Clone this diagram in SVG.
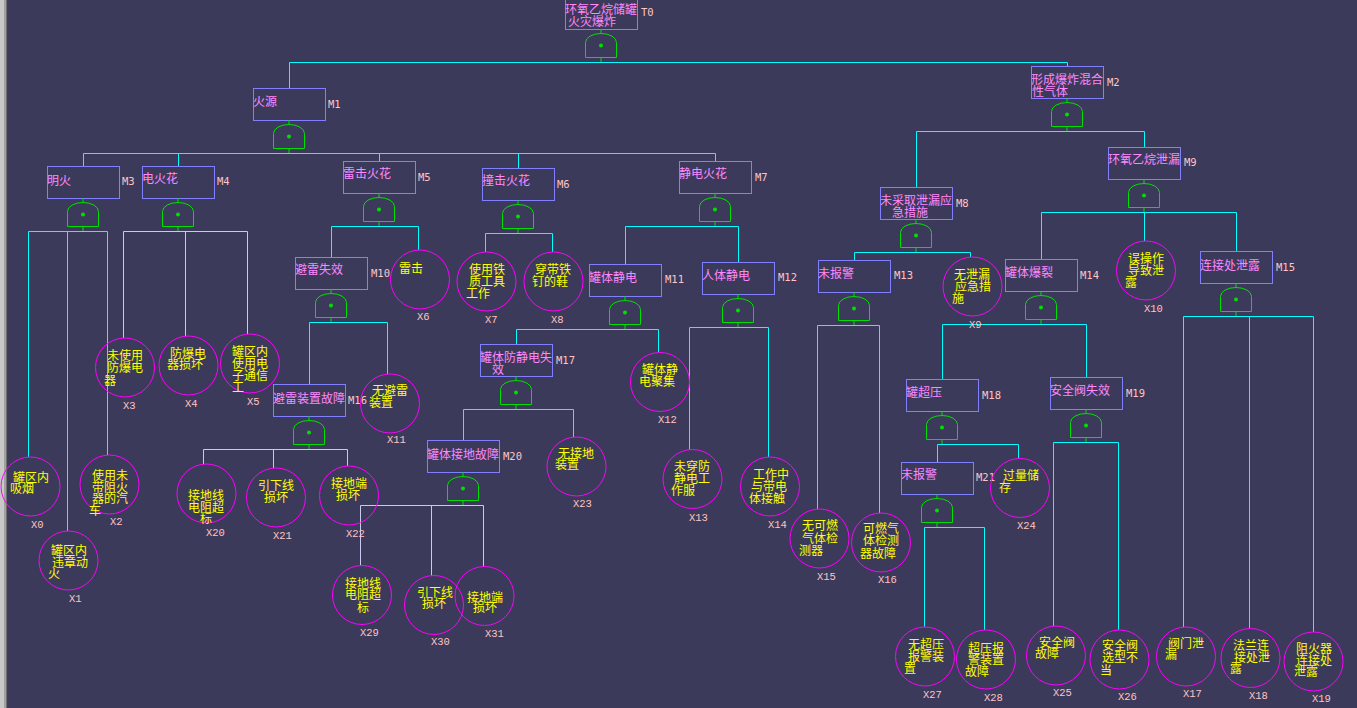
<svg xmlns="http://www.w3.org/2000/svg" xmlns:xlink="http://www.w3.org/1999/xlink" width="1357" height="708" viewBox="0 0 1357 708">
<style>
.bx{fill:none;stroke:#8080ff;stroke-width:1}
.bt{fill:#ff88ff;font-family:"Noto Sans CJK SC",sans-serif;font-size:12px}
.ct{fill:#ffff00;font-family:"Noto Sans CJK SC",sans-serif;font-size:12px}
.lb{fill:#ffc4c4;font-family:"DejaVu Sans Mono",monospace;font-size:10.5px}
.xl{fill:#ffc4c4;font-family:"Liberation Mono",monospace;font-size:10.5px}
.ev{fill:none;stroke:#ff00ff;stroke-width:1}
.c{fill:none;stroke:#00ffff;stroke-width:1}
.c .p{stroke:#c8c8f0}
.g{fill:none;stroke:#00e000;stroke-width:1}
</style>
<defs>
<g id="gate">
<path class="g" d="M16,-4 V0 M16,24 V29 M0.5,24.5 V9.5 A15.5,9 0 0 1 31.5,9.5 V24.5 Z"/>
<circle cx="16" cy="12.5" r="2" fill="#00e000"/>
</g>
</defs>
<rect x="0" y="0" width="1357" height="708" fill="#3c3a5a"/>
<rect x="0" y="0" width="4" height="708" fill="#c8c8c8"/>
<rect x="4" y="0" width="2" height="708" fill="#a0a0a0"/>
<rect x="6" y="0" width="1" height="708" fill="#707070"/>

<g id="connectors" class="c">
<path d="M289.5,62.5 H1067.5 M289.5,62.5 V88 M1067.5,62.5 V66"/>
<path d="M83.5,153.5 H715.5 M83.5,153.5 V166 M178.5,153.5 V166 M379.5,153.5 V161 M518.5,153.5 V168 M715.5,153.5 V161"/>
<path d="M916.5,131.5 H1144.5 M916.5,131.5 V187 M1144.5,131.5 V147"/>
<path d="M28.5,231.5 H107.5 M28.5,231.5 V457 M67.5,231.5 V531 M107.5,231.5 V455"/>
<path class="p" d="M123.5,231.5 H247.5 M123.5,231.5 V338 M185.5,231.5 V336 M247.5,231.5 V334"/>
<path d="M331.5,226.5 H418.5 M331.5,226.5 V257 M418.5,226.5 V250"/>
<path d="M485.5,233.5 H552.5 M485.5,233.5 V252 M552.5,233.5 V252"/>
<path d="M625.5,226.5 H738.5 M625.5,226.5 V264 M738.5,226.5 V262"/>
<path d="M854.5,252.5 H970.5 M854.5,252.5 V260 M970.5,252.5 V257"/>
<path d="M1041.5,212.5 H1236.5 M1041.5,212.5 V259 M1144.5,212.5 V241 M1236.5,212.5 V251"/>
<path d="M309.5,322.5 H387.5 M309.5,322.5 V384 M387.5,322.5 V374"/>
<path d="M516.5,329.5 H658.5 M516.5,329.5 V344 M658.5,329.5 V352.5"/>
<path d="M689.5,327.5 H768.5 M689.5,327.5 V449.5 M768.5,327.5 V457"/>
<path d="M817.5,325.5 H879.5 M817.5,325.5 V509 M879.5,325.5 V513"/>
<path d="M942.5,324.5 H1086.5 M942.5,324.5 V379 M1086.5,324.5 V377"/>
<path d="M1183.5,316.5 H1313.5 M1183.5,316.5 V627 M1249.5,316.5 V628.5 M1313.5,316.5 V632"/>
<path class="p" d="M203.5,449.5 H347.5 M203.5,449.5 V464 M273.5,449.5 V468 M347.5,449.5 V466"/>
<path d="M463.5,409.5 H573.5 M463.5,409.5 V440 M573.5,409.5 V437"/>
<path d="M937.5,444.5 H1018.5 M937.5,444.5 V462 M1018.5,444.5 V458.5"/>
<path d="M1053.5,442.5 H1118.5 M1053.5,442.5 V626 M1118.5,442.5 V630"/>
<path class="p" d="M360.5,505.5 H483.5 M360.5,505.5 V565.5 M431.5,505.5 V575.5 M483.5,505.5 V566.5"/>
<path d="M924.5,527.5 H984.5 M924.5,527.5 V627 M984.5,527.5 V630"/>
</g>

<g id="T0"><rect class="bx" x="565.5" y="-2.5" width="72" height="32"/><text class="bt" x="565" y="13.5">环氧乙烷储罐</text><text class="bt" x="568" y="26">火灾爆炸</text><text class="lb" x="641" y="16">T0</text><use href="#gate" x="585" y="33"/></g>
<g id="M1"><rect class="bx" x="253.5" y="88.5" width="72" height="32"/><text class="bt" x="253" y="105.5">火源</text><text class="lb" x="328" y="108">M1</text><use href="#gate" x="273" y="124"/></g>
<g id="M2"><rect class="bx" x="1031.5" y="66.5" width="72" height="32"/><text class="bt" x="1031" y="84">形成爆炸混合</text><text class="bt" x="1032" y="96">性气体</text><text class="lb" x="1107" y="85.5">M2</text><use href="#gate" x="1051" y="102"/></g>
<g id="M3"><rect class="bx" x="47.5" y="166.5" width="72" height="32"/><text class="bt" x="47" y="184.5">明火</text><text class="lb" x="122" y="185">M3</text><use href="#gate" x="67" y="202"/></g>
<g id="M4"><rect class="bx" x="142.5" y="166.5" width="72" height="32"/><text class="bt" x="142" y="182.6">电火花</text><text class="lb" x="217" y="185">M4</text><use href="#gate" x="162" y="202"/></g>
<g id="M5"><rect class="bx" x="343.5" y="161.5" width="72" height="32"/><text class="bt" x="343" y="177.6">雷击火花</text><text class="lb" x="418" y="181">M5</text><use href="#gate" x="363" y="197"/></g>
<g id="M6"><rect class="bx" x="482.5" y="168.5" width="72" height="32"/><text class="bt" x="482" y="184.6">撞击火花</text><text class="lb" x="557" y="187.5">M6</text><use href="#gate" x="502" y="204"/></g>
<g id="M7"><rect class="bx" x="679.5" y="161.5" width="72" height="32"/><text class="bt" x="679" y="177.6">静电火花</text><text class="lb" x="755" y="180.5">M7</text><use href="#gate" x="699" y="197"/></g>
<g id="M8"><rect class="bx" x="880.5" y="187.5" width="72" height="32"/><text class="bt" x="880" y="204.6">未采取泄漏应</text><text class="bt" x="892" y="216.6">急措施</text><text class="lb" x="956" y="207">M8</text><use href="#gate" x="900" y="223"/></g>
<g id="M9"><rect class="bx" x="1108.5" y="147.5" width="72" height="32"/><text class="bt" x="1108" y="163.6">环氧乙烷泄漏</text><text class="lb" x="1184" y="166">M9</text><use href="#gate" x="1128" y="183"/></g>
<g id="M10"><rect class="bx" x="295.5" y="257.5" width="72" height="32"/><text class="bt" x="295" y="273.6">避雷失效</text><text class="lb" x="371" y="276.5">M10</text><use href="#gate" x="315" y="293"/></g>
<g id="M11"><rect class="bx" x="589.5" y="264.5" width="72" height="32"/><text class="bt" x="589" y="281.6">罐体静电</text><text class="lb" x="665" y="283">M11</text><use href="#gate" x="609" y="300"/></g>
<g id="M12"><rect class="bx" x="702.5" y="262.5" width="72" height="32"/><text class="bt" x="702" y="279.6">人体静电</text><text class="lb" x="778" y="281">M12</text><use href="#gate" x="722" y="298"/></g>
<g id="M13"><rect class="bx" x="818.5" y="260.5" width="72" height="32"/><text class="bt" x="818" y="277.6">未报警</text><text class="lb" x="894" y="279">M13</text><use href="#gate" x="838" y="296"/></g>
<g id="M14"><rect class="bx" x="1005.5" y="259.5" width="72" height="32"/><text class="bt" x="1005" y="276.6">罐体爆裂</text><text class="lb" x="1080" y="278.5">M14</text><use href="#gate" x="1025" y="295"/></g>
<g id="M15"><rect class="bx" x="1200.5" y="251.5" width="72" height="32"/><text class="bt" x="1200" y="269.6">连接处泄露</text><text class="lb" x="1276" y="270.5">M15</text><use href="#gate" x="1220" y="287"/></g>
<g id="M16"><rect class="bx" x="273.5" y="384.5" width="72" height="32"/><text class="bt" x="273" y="402.6">避雷装置故障</text><text class="lb" x="348" y="403.5">M16</text><use href="#gate" x="293" y="420"/></g>
<g id="M17"><rect class="bx" x="480.5" y="344.5" width="72" height="32"/><text class="bt" x="480" y="362">罐体防静电失</text><text class="bt" x="492" y="374">效</text><text class="lb" x="556" y="364">M17</text><use href="#gate" x="500" y="380"/></g>
<g id="M18"><rect class="bx" x="906.5" y="379.5" width="72" height="32"/><text class="bt" x="906" y="396.6">罐超压</text><text class="lb" x="982" y="398.5">M18</text><use href="#gate" x="926" y="415"/></g>
<g id="M19"><rect class="bx" x="1050.5" y="377.5" width="72" height="32"/><text class="bt" x="1050" y="394.6">安全阀失效</text><text class="lb" x="1126" y="396.7">M19</text><use href="#gate" x="1070" y="413"/></g>
<g id="M20"><rect class="bx" x="427.5" y="440.5" width="72" height="32"/><text class="bt" x="427" y="458.6">罐体接地故障</text><text class="lb" x="503" y="460">M20</text><use href="#gate" x="447" y="476"/></g>
<g id="M21"><rect class="bx" x="901.5" y="462.5" width="72" height="32"/><text class="bt" x="901" y="478.6">未报警</text><text class="lb" x="976" y="481">M21</text><use href="#gate" x="921" y="498"/></g>

<g id="X0"><circle class="ev" cx="30.5" cy="486.5" r="29.5"/><text class="ct" x="13" y="481.5">罐区内</text><text class="ct" x="10" y="492.5">吸烟</text><text class="xl" x="31" y="528">X0</text></g>
<g id="X1"><circle class="ev" cx="68.5" cy="560.5" r="29.5"/><text class="ct" x="51" y="554.5">罐区内</text><text class="ct" x="52" y="566.5">违章动</text><text class="ct" x="48" y="577.5">火</text><text class="xl" x="69" y="602">X1</text></g>
<g id="X2"><circle class="ev" cx="109.5" cy="484.5" r="29.5"/><text class="ct" x="92" y="479.5">使用未</text><text class="ct" x="92" y="491.5">带阻火</text><text class="ct" x="92" y="502.5">器的汽</text><text class="ct" x="89" y="514.5">车</text><text class="xl" x="110" y="525">X2</text></g>
<g id="X3"><circle class="ev" cx="125" cy="367.5" r="29.5"/><text class="ct" x="107" y="359.5">未使用</text><text class="ct" x="107" y="371.5">防爆电</text><text class="ct" x="104" y="384.5">器</text><text class="xl" x="123" y="409">X3</text></g>
<g id="X4"><circle class="ev" cx="188.5" cy="365.5" r="29.5"/><text class="ct" x="170" y="357.5">防爆电</text><text class="ct" x="167" y="368.5">器损坏</text><text class="xl" x="185" y="407">X4</text></g>
<g id="X5"><circle class="ev" cx="250" cy="363.5" r="29.5"/><text class="ct" x="232" y="355.5">罐区内</text><text class="ct" x="232" y="367.5">使用电</text><text class="ct" x="232" y="379.5">子通信</text><text class="ct" x="232" y="391.5">工</text><text class="xl" x="247" y="405">X5</text></g>
<g id="X6"><circle class="ev" cx="420" cy="279.5" r="29.5"/><text class="ct" x="399" y="272.5">雷击</text><text class="xl" x="417" y="320">X6</text></g>
<g id="X7"><circle class="ev" cx="486.5" cy="281.5" r="29.5"/><text class="ct" x="469" y="273.5">使用铁</text><text class="ct" x="469" y="285.5">质工具</text><text class="ct" x="466" y="297.5">工作</text><text class="xl" x="485" y="323">X7</text></g>
<g id="X8"><circle class="ev" cx="553.5" cy="281.5" r="29.5"/><text class="ct" x="535" y="273.5">穿带铁</text><text class="ct" x="532" y="285.5">钉的鞋</text><text class="xl" x="551" y="323">X8</text></g>
<g id="X9"><circle class="ev" cx="972.5" cy="286.5" r="29.5"/><text class="ct" x="954" y="278.5">无泄漏</text><text class="ct" x="955" y="290.5">应急措</text><text class="ct" x="952" y="302.5">施</text><text class="xl" x="969" y="328">X9</text></g>
<g id="X10"><circle class="ev" cx="1146" cy="270.5" r="29.5"/><text class="ct" x="1128" y="262.5">误操作</text><text class="ct" x="1128" y="274.5">导致泄</text><text class="ct" x="1125" y="286.5">露</text><text class="xl" x="1144" y="312">X10</text></g>
<g id="X11"><circle class="ev" cx="390" cy="403.5" r="29.5"/><text class="ct" x="372" y="394.5">无避雷</text><text class="ct" x="369" y="406.5">装置</text><text class="xl" x="387" y="443">X11</text></g>
<g id="X12"><circle class="ev" cx="660" cy="382" r="29.5"/><text class="ct" x="642" y="373.5">罐体静</text><text class="ct" x="639" y="385.5">电聚集</text><text class="xl" x="658" y="423">X12</text></g>
<g id="X13"><circle class="ev" cx="692.5" cy="479" r="29.5"/><text class="ct" x="674" y="470.5">未穿防</text><text class="ct" x="674" y="482.5">静电工</text><text class="ct" x="671" y="494.5">作服</text><text class="xl" x="689" y="521">X13</text></g>
<g id="X14"><circle class="ev" cx="770" cy="486.5" r="29.5"/><text class="ct" x="753" y="478.5">工作中</text><text class="ct" x="751" y="490.5">与带电</text><text class="ct" x="749" y="502.5">体接触</text><text class="xl" x="768" y="528">X14</text></g>
<g id="X15"><circle class="ev" cx="819.5" cy="538.5" r="29.5"/><text class="ct" x="802" y="529.5">无可燃</text><text class="ct" x="802" y="542.5">气体检</text><text class="ct" x="799" y="554.5">测器</text><text class="xl" x="817" y="580">X15</text></g>
<g id="X16"><circle class="ev" cx="881" cy="542.5" r="29.5"/><text class="ct" x="863" y="532.5">可燃气</text><text class="ct" x="863" y="544.5">体检测</text><text class="ct" x="860" y="557.5">器故障</text><text class="xl" x="878" y="583">X16</text></g>
<g id="X17"><circle class="ev" cx="1186" cy="656.5" r="29.5"/><text class="ct" x="1168" y="647.5">阀门泄</text><text class="ct" x="1165" y="658.5">漏</text><text class="xl" x="1183" y="697">X17</text></g>
<g id="X18"><circle class="ev" cx="1250.5" cy="658" r="29.5"/><text class="ct" x="1233" y="649.5">法兰连</text><text class="ct" x="1234" y="661.5">接处泄</text><text class="ct" x="1230" y="672.5">露</text><text class="xl" x="1249" y="699">X18</text></g>
<g id="X19"><circle class="ev" cx="1313.5" cy="661.5" r="29.5"/><text class="ct" x="1296" y="652.5">阻火器</text><text class="ct" x="1296" y="664.5">连接处</text><text class="ct" x="1294" y="675.5">泄露</text><text class="xl" x="1312" y="702">X19</text></g>
<g id="X20"><circle class="ev" cx="206.5" cy="493.5" r="29.5"/><text class="ct" x="188" y="499.5">接地线</text><text class="ct" x="188" y="511.5">电阻超</text><text class="ct" x="200" y="522.5">标</text><text class="xl" x="206" y="536">X20</text></g>
<g id="X21"><circle class="ev" cx="276" cy="497.5" r="29.5"/><text class="ct" x="258" y="489.5">引下线</text><text class="ct" x="264" y="501.5">损坏</text><text class="xl" x="273" y="539">X21</text></g>
<g id="X22"><circle class="ev" cx="349" cy="495.5" r="29.5"/><text class="ct" x="331" y="488">接地端</text><text class="ct" x="336" y="499.5">损坏</text><text class="xl" x="346" y="537">X22</text></g>
<g id="X23"><circle class="ev" cx="576.5" cy="466.5" r="29.5"/><text class="ct" x="558" y="457.5">无接地</text><text class="ct" x="555" y="468.5">装置</text><text class="xl" x="573" y="507">X23</text></g>
<g id="X24"><circle class="ev" cx="1020" cy="488" r="29.5"/><text class="ct" x="1003" y="479.5">过量储</text><text class="ct" x="999" y="491.5">存</text><text class="xl" x="1017" y="529">X24</text></g>
<g id="X25"><circle class="ev" cx="1056" cy="655.5" r="29.5"/><text class="ct" x="1039" y="646.5">安全阀</text><text class="ct" x="1035" y="657.5">故障</text><text class="xl" x="1053" y="696">X25</text></g>
<g id="X26"><circle class="ev" cx="1119.5" cy="659.5" r="29.5"/><text class="ct" x="1102" y="649.5">安全阀</text><text class="ct" x="1102" y="661.5">选型不</text><text class="ct" x="1100" y="674.5">当</text><text class="xl" x="1118" y="700">X26</text></g>
<g id="X27"><circle class="ev" cx="925" cy="656.5" r="29.5"/><text class="ct" x="908" y="648.5">无超压</text><text class="ct" x="908" y="660.5">报警装</text><text class="ct" x="904" y="672.5">置</text><text class="xl" x="923" y="698">X27</text></g>
<g id="X28"><circle class="ev" cx="986" cy="659.5" r="29.5"/><text class="ct" x="968" y="652.5">超压报</text><text class="ct" x="968" y="663.5">警装置</text><text class="ct" x="965" y="675.5">故障</text><text class="xl" x="984" y="701">X28</text></g>
<g id="X29"><circle class="ev" cx="362" cy="595" r="29.5"/><text class="ct" x="345" y="587.5">接地线</text><text class="ct" x="345" y="598.5">电阻超</text><text class="ct" x="357" y="611.5">标</text><text class="xl" x="360" y="636">X29</text></g>
<g id="X30"><circle class="ev" cx="434" cy="605" r="29.5"/><text class="ct" x="417" y="596.5">引下线</text><text class="ct" x="422" y="607.5">损坏</text><text class="xl" x="431" y="645">X30</text></g>
<g id="X31"><circle class="ev" cx="484.5" cy="596" r="29.5"/><text class="ct" x="467" y="601.5">接地端</text><text class="ct" x="473" y="612">损坏</text><text class="xl" x="485" y="637">X31</text></g>
</svg>
